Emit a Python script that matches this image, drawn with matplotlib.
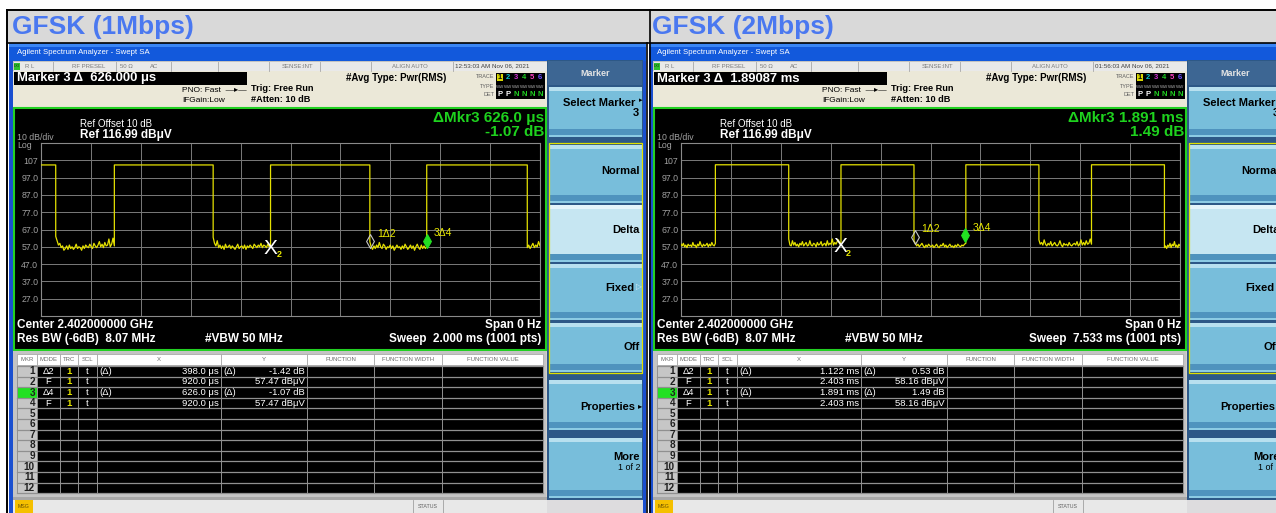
import numpy as np
import matplotlib
matplotlib.use('Agg')
import matplotlib.pyplot as plt
from matplotlib.patches import Rectangle
from matplotlib.path import Path

plt.rcParams['font.family'] = ['Liberation Sans', 'DejaVu Sans']

W, H = 1276, 513

# ---- panel texts ----
titles = ['GFSK (1Mbps)', 'GFSK (2Mbps)']
marker_readout = ['Marker 3 \u0394  626.000 \u03bcs', 'Marker 3 \u0394  1.89087 ms']
clock = ['12:53:03 AM Nov 06, 2021', '01:56:03 AM Nov 06, 2021']
dmkr_time = ['\u0394Mkr3 626.0 \u03bcs', '\u0394Mkr3 1.891 ms']
dmkr_level = ['-1.07 dB', '1.49 dB']
sweep_label = ['Sweep  2.000 ms (1001 pts)', 'Sweep  7.533 ms (1001 pts)']
sweep_ms = [2.000, 7.533]

ref_level = 116.99
y_labels = ['107', '97.0', '87.0', '77.0', '67.0', '57.0', '47.0', '37.0', '27.0']

# ---- trace, 1 Mbps (times in ms, levels in dBuV) ----
edges_1m = [0.059, 0.294, 0.690, 0.920, 1.318, 1.546, 1.949]
start_high_1m = True
high_1m = 104.3
low_1m = [
    [63.0, 60.5, 58.0, 59.0, 56.5, 57.5, 55.0, 56.0, 57.5, 55.5, 58.0, 56.0, 57.0, 55.5, 56.5,
     58.5, 56.0, 57.0, 56.5, 55.0, 57.5, 56.0, 58.0, 57.0, 56.5, 58.5, 57.0, 56.0, 59.0, 57.5,
     56.5, 58.0, 60.0, 57.0, 58.5, 56.5, 59.5, 57.5, 58.0, 61.5, 57.0, 58.5, 62.0, 57.5],
    [62.5, 59.0, 57.5, 60.5, 56.5, 58.0, 56.0, 57.5, 55.5, 58.5, 56.5, 57.0, 58.0, 56.0, 57.5,
     56.5, 55.5, 57.0, 58.5, 56.0, 57.0, 57.5, 56.0, 58.0, 55.5, 57.5, 56.5, 58.0, 57.0, 56.0,
     58.5, 57.5, 56.5, 58.0, 57.0, 59.0, 56.5, 58.0, 57.5, 56.5, 58.5, 57.0, 57.5],
    [60.0, 57.0, 55.5, 57.5, 56.0, 58.0, 56.5, 59.5, 57.0, 56.0, 58.5, 57.5, 55.5, 57.0, 56.5,
     58.0, 56.0, 57.5, 55.0, 56.5, 58.0, 56.5, 57.0, 55.5, 57.5, 56.0, 58.5, 57.0, 55.5, 56.5,
     58.0, 56.0, 57.5, 55.0, 57.0, 58.5, 56.5, 55.5, 58.0, 56.0, 57.5, 56.0, 57.0],
    [56.5, 58.0, 56.0, 57.5, 59.0, 56.5, 58.0, 57.0, 60.0, 57.5],
]

# ---- trace, 2 Mbps ----
edges_2m = [0.519, 1.626, 2.415, 3.517, 4.300, 5.403, 6.197, 7.298]
start_high_2m = False
high_2m = 104.4
low_2m = [
    [58.5, 57.5, 59.0, 57.0, 58.0, 56.5, 58.5, 57.5, 58.0, 57.0, 59.5, 57.5, 58.0, 56.5, 58.5,
     57.5, 60.0, 58.0, 57.0, 58.5, 57.5, 58.0, 59.0, 57.0, 58.5, 57.5, 59.5, 58.0, 57.5, 59.0],
    [61.5, 58.0, 57.5, 60.5, 58.0, 59.5, 57.5, 58.5, 57.0, 59.0, 58.0, 60.0, 57.5, 58.5, 59.5,
     57.5, 58.0, 60.5, 58.0, 57.5, 59.0, 58.5, 57.0, 59.5, 58.0, 58.5, 60.0, 57.5, 58.5, 59.0,
     57.5, 60.5, 58.0, 59.0, 58.5, 61.5, 58.0, 59.5, 58.5, 60.0, 61.0, 58.5, 59.5],
    [60.5, 59.0, 57.5, 58.5, 57.0, 58.0, 59.0, 57.5, 56.5, 58.0, 57.0, 58.5, 57.5, 57.0, 58.0,
     56.5, 57.5, 58.5, 57.0, 56.5, 58.0, 57.5, 59.0, 57.0, 58.0, 56.5, 57.5, 58.5, 57.0, 57.5,
     56.5, 58.0, 57.0, 58.5, 57.5, 57.0, 58.0, 57.5, 58.5, 59.0],
    [61.0, 58.5, 59.5, 58.0, 61.0, 58.5, 57.5, 59.0, 58.0, 60.0, 57.5, 58.5, 59.5, 58.0, 57.5,
     58.5, 60.5, 58.0, 57.0, 59.0, 58.0, 58.5, 57.5, 59.5, 58.0, 57.5, 58.5, 59.0, 58.0, 60.0,
     57.5, 58.5, 61.0, 58.0, 59.5, 58.0, 60.5, 58.5, 59.0, 61.5, 58.5],
    [56.5, 57.5, 56.0, 58.0, 57.0, 59.0, 56.5, 58.5, 57.5, 60.0, 57.0, 58.0, 56.5, 58.5, 57.5],
]

# ---- markers (time ms, level dBuV) ----
mk2_t = [0.920, 2.403]
mk2_y = [57.47, 58.16]
mk1_t = [1.318, 3.525]
mk1_y = [56.05, 58.69]
mk3_t = [1.546, 4.294]
mk3_y = [56.40, 59.65]

# ---- marker table ----
table_cols = ['MKR', 'MODE', 'TRC', 'SCL', 'X', 'Y', 'FUNCTION', 'FUNCTION WIDTH', 'FUNCTION VALUE']
tbl_mode = ['\u03942', 'F', '\u03944', 'F']
tbl_delta = ['(\u0394)', '', '(\u0394)', '']
tbl_x = [['398.0 \u03bcs', '920.0 \u03bcs', '626.0 \u03bcs', '920.0 \u03bcs'],
         ['1.122 ms', '2.403 ms', '1.891 ms', '2.403 ms']]
tbl_y = [['-1.42 dB', '57.47 dB\u03bcV', '-1.07 dB', '57.47 dB\u03bcV'],
         ['0.53 dB', '58.16 dB\u03bcV', '1.49 dB', '58.16 dB\u03bcV']]

softkeys = ['Select Marker', 'Normal', 'Delta', 'Fixed', 'Off', 'Properties', 'More']

fig = plt.figure(figsize=(W / 100, H / 100), dpi=100)
fig.patch.set_facecolor('white')
bg = fig.add_axes([0, 0, 1, 1])
bg.set_xlim(0, W)
bg.set_ylim(H, 0)
bg.axis('off')


def rect(x0, y0, x1, y1, fc, ec='none', lw=0, z=1):
    bg.add_patch(Rectangle((x0, y0), x1 - x0, y1 - y0, facecolor=fc,
                           edgecolor=ec, linewidth=lw, zorder=z))


def label(x, y, s, size, color='black', weight='normal', ha='left', va='center', z=5):
    bg.text(x, y, s, fontsize=size, color=color, fontweight=weight,
            ha=ha, va=va, zorder=z)


def build_trace(sweep, edges, high, lows, start_high):
    bounds = [0.0] + edges + [sweep]
    t, y = [], []
    is_high = start_high
    k = 0
    for a, b in zip(bounds[:-1], bounds[1:]):
        if is_high:
            t += [a, b]
            y += [high, high]
        else:
            vals = lows[k]
            k += 1
            t += list(np.linspace(a, b, len(vals)))
            y += vals
        is_high = not is_high
    return t, y


# title row of the outer table
rect(7, 10, W, 42.5, '#d9d9d9')
traces = [build_trace(sweep_ms[0], edges_1m, high_1m, low_1m, start_high_1m),
          build_trace(sweep_ms[1], edges_2m, high_2m, low_2m, start_high_2m)]

diamond = Path([(0, 0), (0.28, 0.5), (0, 1), (-0.28, 0.5), (0, 0)],
               [Path.MOVETO, Path.LINETO, Path.LINETO, Path.LINETO, Path.CLOSEPOLY])

cols_x = [17, 37, 60, 78, 97, 221, 307, 374, 442, 543]
key_rows = [(87, 137), (145, 203), (205, 262), (264, 320), (323, 372), (380, 430), (438, 498)]

for k in range(2):
    dx = 640 * k
    label(12 + dx, 27, titles[k], 19, color='#4a78f0', weight='bold')

    # window frame + title bar
    rect(9 + dx, 43, 646 + dx, 513, '#d4d0c8')
    rect(9 + dx, 43, 646 + dx, 47, '#3a86f5')
    rect(9 + dx, 47, 646 + dx, 61, '#1259dc')
    rect(9 + dx, 61, 13 + dx, 513, '#1a4fd0')
    rect(643 + dx, 61, 646 + dx, 513, '#1a4fd0')
    label(17 + dx, 52.5, 'Agilent Spectrum Analyzer - Swept SA', 5.6, color='white')

    # status row
    rect(13 + dx, 61, 547 + dx, 71, '#e9e9e9', ec='#b0b0b0', lw=0.4)
    rect(14 + dx, 62.5, 20 + dx, 69.5, '#2fc02f')
    label(17 + dx, 66, 'LXI', 2.8, color='#103010', ha='center')
    for sx in [53, 116, 171, 218, 269, 320, 371, 453]:
        bg.plot([sx + dx, sx + dx], [61.5, 70.5], color='#a8a8a8', lw=0.6, zorder=3)
    for sx, s in [(25, 'R L'), (72, 'RF PRESEL'), (120, '50 \u03a9'), (150, 'AC'),
                  (282, 'SENSE:INT'), (392, 'ALIGN AUTO')]:
        label(sx + dx, 66, s, 4.3, color='#7a7a7a')
    label(455 + dx, 66, clock[k], 4.5, color='#404040')

    # marker row
    rect(13 + dx, 71, 547 + dx, 107, '#ebe8d8')
    rect(14 + dx, 72, 247 + dx, 85, 'black')
    label(17 + dx, 78.5, marker_readout[k], 9.4, color='white', weight='bold')
    label(182 + dx, 91, 'PNO: Fast  \u2014\u25b8\u2014', 6.0)
    label(182 + dx, 100, 'IFGain:Low', 6.0)
    label(251 + dx, 88.5, 'Trig: Free Run', 6.6, weight='bold')
    label(251 + dx, 99.5, '#Atten: 10 dB', 6.6, weight='bold')
    label(346 + dx, 78, '#Avg Type: Pwr(RMS)', 7.0, weight='bold')
    for ty, s in [(77, 'TRACE'), (86, 'TYPE'), (95, 'DET')]:
        label(494 + dx, ty, s, 4.0, color='#606060', ha='right')
    rect(496 + dx, 73, 545 + dx, 99, 'black')
    trace_colors = ['#101010', '#00c8d0', '#d030d0', '#20d020', '#ff40c0', '#7050ff']
    rect(497 + dx, 74, 503 + dx, 81, '#d8d800')
    for i, c in enumerate(trace_colors):
        label(500 + dx + i * 8, 77.5, str(i + 1), 5.5, color=c, weight='bold', ha='center')
        label(500 + dx + i * 8, 86.5, 'WW', 3.2, color='#b0b0b0', ha='center')
        det = 'P' if i < 2 else 'N'
        label(500 + dx + i * 8, 95, det, 5.5, color='white' if i < 2 else '#20d020',
              weight='bold', ha='center')

    # plot frame
    rect(13.5 + dx, 107.5, 545.5 + dx, 350, 'black', ec='#22d022', lw=1.5, z=2)
    label(80 + dx, 124, 'Ref Offset 10 dB', 7, color='white', z=6)
    label(80 + dx, 135, 'Ref 116.99 dB\u03bcV', 8.5, color='white', weight='bold', z=6)
    label(17 + dx, 137, '10 dB/div', 6.3, color='#a0a0a0', z=6)
    label(17 + dx, 145, 'Log', 6.3, color='#a0a0a0', z=6)
    label(544 + dx, 118, dmkr_time[k], 11, color='#1ed21e', weight='bold', ha='right', z=6)
    label(544 + dx, 132, dmkr_level[k], 11, color='#1ed21e', weight='bold', ha='right', z=6)
    label(17 + dx, 325, 'Center 2.402000000 GHz', 8.5, color='white', weight='bold', z=6)
    label(17 + dx, 339, 'Res BW (-6dB)  8.07 MHz', 8.5, color='white', weight='bold', z=6)
    label(205 + dx, 339, '#VBW 50 MHz', 8.5, color='white', weight='bold', z=6)
    label(541 + dx, 325, 'Span 0 Hz', 8.5, color='white', weight='bold', ha='right', z=6)
    label(541 + dx, 339, sweep_label[k], 8.5, color='white', weight='bold', ha='right', z=6)

    # marker table
    rect(13 + dx, 350.5, 546 + dx, 497, '#c4c4c4', z=2)
    for c0, c1, name in zip(cols_x[:-1], cols_x[1:], table_cols):
        rect(c0 + dx, 354, c1 + dx, 365, 'white', ec='#a0a0a0', lw=0.5, z=3)
        label((c0 + c1) / 2 + dx, 359.5, name, 4.3, color='#6a6a6a', ha='center')
    row_top, row_h = 366, 10.6
    rect(37 + dx, row_top, 543 + dx, row_top + 12 * row_h, 'black', z=3)
    rect(17 + dx, row_top, 37 + dx, row_top + 12 * row_h, '#c6c6c6', z=3)
    rect(17 + dx, row_top + 2 * row_h, 37 + dx, row_top + 3 * row_h, '#22e022', z=3)
    for r in range(13):
        yy = row_top + r * row_h
        bg.plot([17 + dx, 543 + dx], [yy, yy], color='#909090', lw=0.9, zorder=4)
    for cx in cols_x:
        bg.plot([cx + dx, cx + dx], [row_top, row_top + 12 * row_h], color='#909090',
                lw=0.7, zorder=4)
    for r in range(12):
        yc = row_top + (r + 0.5) * row_h
        label(35 + dx, yc, str(r + 1), 7.2, color='#202020', weight='bold', ha='right')
        if r < 4:
            label(48.5 + dx, yc, tbl_mode[r], 6.8, color='white', ha='center')
            label(69 + dx, yc, '1', 6.8, color='#e8e800', weight='bold', ha='center')
            label(87.5 + dx, yc, 't', 6.8, color='white', ha='center')
            label(99 + dx, yc, tbl_delta[r], 6.8, color='white')
            label(219 + dx, yc, tbl_x[k][r], 6.8, color='white', ha='right')
            label(223 + dx, yc, tbl_delta[r], 6.8, color='white')
            label(305 + dx, yc, tbl_y[k][r], 6.8, color='white', ha='right')

    # message / status bar
    rect(13 + dx, 497, 547 + dx, 499.5, '#a8a8a8')
    rect(13 + dx, 499.5, 547 + dx, 513, '#e8e8e8')
    rect(15 + dx, 500, 33 + dx, 513, '#f5c000')
    label(24 + dx, 506.5, 'MSG', 3.8, color='#6a5000', ha='center')
    for sx in [413, 443]:
        bg.plot([sx + dx, sx + dx], [500, 513], color='#a0a0a0', lw=0.6, zorder=3)
    label(428 + dx, 506.5, 'STATUS', 3.8, color='#606060', ha='center')

    # softkey panel
    rect(547 + dx, 60, 643 + dx, 500, '#2d5887')
    rect(547 + dx, 500, 643 + dx, 513, '#dddcde')
    rect(548 + dx, 61, 642 + dx, 85, '#3d6693')
    label(595 + dx, 73, 'Marker', 6.5, color='#e4e4e4', weight='bold', ha='center')
    for i, (a, b) in enumerate(key_rows):
        body = '#c6e6f2' if softkeys[i] == 'Delta' else '#78bedb'
        top = '#e4f4fa' if softkeys[i] == 'Delta' else '#b8e0ef'
        rect(549 + dx, a, 642 + dx, b, body)
        rect(549 + dx, a, 642 + dx, a + 4, top)
        rect(549 + dx, b - 8, 642 + dx, b - 2, '#4f93be')
        rect(549 + dx, b - 2, 642 + dx, b, '#8ccbe4')
    rect(548.5 + dx, 143, 642 + dx, 373, 'none', ec='#e0e000', lw=0.9, z=4)
    label(635 + dx, 103, 'Select Marker', 8, weight='bold', ha='right')
    label(642 + dx, 101, '\u25b8', 5, ha='right')
    label(639 + dx, 113, '3', 8, weight='bold', ha='right')
    label(640 + dx, 171, 'Normal', 8, weight='bold', ha='right')
    label(640 + dx, 230, 'Delta', 8, weight='bold', ha='right')
    label(634 + dx, 288, 'Fixed', 8, weight='bold', ha='right')
    label(642 + dx, 288, '\u25b7', 5.5, color='#d8eef6', ha='right')
    label(635 + dx, 407, 'Properties', 8, weight='bold', ha='right')
    label(642 + dx, 407, '\u25b8', 6, ha='right')
    label(640 + dx, 347, 'Off', 8, weight='bold', ha='right')
    label(640 + dx, 457, 'More', 8, weight='bold', ha='right')
    label(640 + dx, 468, '1 of 2', 6.5, ha='right')

    # graticule and trace
    ax = fig.add_axes([(41 + dx) / W, (H - 316) / H, 499 / W, 173 / H])
    ax.set_facecolor('black')
    sweep = sweep_ms[k]
    ax.set_xlim(0, sweep)
    ax.set_ylim(ref_level - 100, ref_level)
    ax.set_xticks(np.linspace(0, sweep, 11))
    ax.set_yticks([ref_level - 10 * (i + 1) for i in range(9)], labels=y_labels)
    ax.grid(True, color='#7a7a7a', lw=0.7)
    ax.tick_params(length=0, labelbottom=False, labelsize=6.3, labelcolor='#a0a0a0', pad=2)
    for sp in ax.spines.values():
        sp.set_color('#8a8a8a')
        sp.set_linewidth(0.8)
    t, y = traces[k]
    ax.plot(t, y, color='#e4e000', lw=0.9, zorder=3)

    ax.annotate('X', (mk2_t[k], mk2_y[k]), xytext=(0, -5.5), textcoords='offset points',
                fontsize=15, color='white', ha='center', va='baseline', zorder=6)
    ax.annotate('2', (mk2_t[k], mk2_y[k]), xytext=(6, -6), textcoords='offset points',
                fontsize=6.5, color='#e8e800', weight='bold', ha='center', va='center', zorder=6)
    ax.plot([mk1_t[k]], [mk1_y[k]], marker=diamond, ms=20, mfc='none', mec='#c8c8c8',
            mew=0.8, zorder=5, clip_on=False)
    ax.plot([mk3_t[k]], [mk3_y[k]], marker=diamond, ms=20, mfc='#22e022', mec='#22e022',
            mew=0.8, zorder=5, clip_on=False)
    ax.annotate('1\u03942', (mk1_t[k], mk1_y[k]), xytext=(5, 10.5), textcoords='offset points',
                fontsize=7.5, color='#e8e800', va='center', zorder=6)
    ax.annotate('3\u03944', (mk3_t[k], mk3_y[k]), xytext=(5, 10.5), textcoords='offset points',
                fontsize=7.5, color='#e8e800', va='center', zorder=6)

# outer table borders
bg.plot([7, W], [10, 10], color='black', lw=1.4, zorder=8)
bg.plot([7, W], [42.5, 42.5], color='black', lw=1.2, zorder=8)
bg.plot([7, 7], [10, H], color='black', lw=1.4, zorder=8)
bg.plot([646.8, 646.8], [42.5, H], color='black', lw=1.2, zorder=8)
bg.plot([649.6, 649.6], [10, H], color='black', lw=1.2, zorder=8)

fig.savefig('out.png', dpi=100)
